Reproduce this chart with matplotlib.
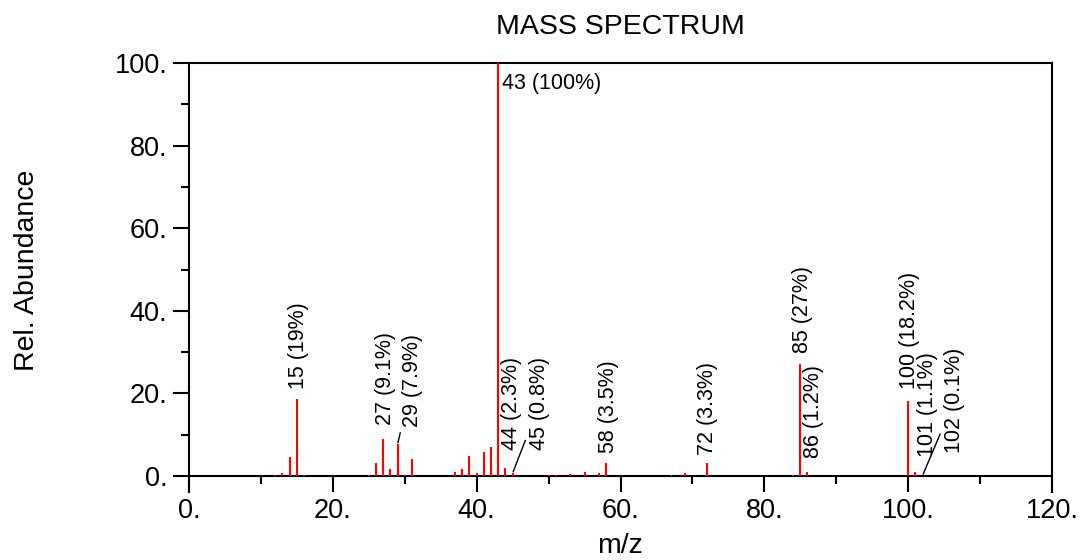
import matplotlib
matplotlib.use("Agg")
from matplotlib import pyplot as plt
from matplotlib.ticker import MultipleLocator, FuncFormatter

# peaks (m/z, relative abundance %)
mz = [12, 13, 14, 15, 16, 25, 26, 27, 28, 29, 30, 31, 37, 38, 39, 40, 41, 42,
      43, 44, 45, 50, 51, 53, 55, 57, 58, 67, 69, 72, 84, 85, 86, 100, 101, 102]
abundance = [0.3, 0.7, 4.5, 18.6, 0.3, 0.3, 3.2, 8.9, 1.6, 7.7, 0.2, 4.1, 1.0,
             1.6, 4.8, 0.7, 5.9, 7.1, 100, 1.9, 0.7, 0.3, 0.3, 0.4, 1.0, 0.7,
             3.2, 0.2, 0.7, 3.2, 0.3, 27.2, 1.0, 18.2, 0.9, 0.1]

# annotated peaks and the percentages printed next to them
label_mz = [15, 27, 29, 43, 44, 45, 58, 72, 85, 86, 100, 101, 102]
label_pct = ["19", "9.1", "7.9", "100", "2.3", "0.8", "3.5", "3.3", "27",
             "1.2", "18.2", "1.1", "0.1"]

# label placement (pixel offsets from peak top) and leader lines
label_offset = {15: (2, 10), 27: (2, 14), 29: (15, 17), 43: (4, -10),
                44: (6, 18), 45: (27, 23), 58: (2, 10), 72: (1, 8),
                85: (2, 11), 86: (6, 14), 100: (1, 12), 101: (12, 15),
                102: (32, 23)}
leader = {29, 45, 102}

plt.rcParams["font.family"] = ["Liberation Sans", "DejaVu Sans"]

fig = plt.figure(figsize=(10.81, 5.60), dpi=100)
ax = fig.add_axes([189 / 1081, 1 - 492 / 560, 863 / 1081, 429 / 560])

ax.vlines(mz, 0, abundance, color="#ff0000", lw=1.5, zorder=3)

ax.set_xlim(0, 120)
ax.set_ylim(-(492 - 476) / 4.13, 100)

for s in ["left", "right", "top", "bottom"]:
    ax.spines[s].set_linewidth(1.5)
ax.spines["bottom"].set_position(("data", 0))

ax.xaxis.set_major_locator(MultipleLocator(20))
ax.xaxis.set_minor_locator(MultipleLocator(10))
ax.yaxis.set_major_locator(MultipleLocator(20))
ax.yaxis.set_minor_locator(MultipleLocator(10))
fmt = FuncFormatter(lambda v, p: f"{v:.0f}.")
ax.xaxis.set_major_formatter(fmt)
ax.yaxis.set_major_formatter(fmt)
ax.tick_params(which="major", length=11.5, width=1.5, labelsize=19.5, pad=4)
ax.tick_params(which="minor", length=5.5, width=1.5)
ax.tick_params(axis="y", which="both", left=True, right=False)

lookup = dict(zip(mz, abundance))
for m, pct in zip(label_mz, label_pct):
    dx, dy = label_offset[m]
    txt = f"{m} ({pct}%)"
    if m == 43:
        ax.annotate(txt, (m, lookup[m]), xytext=(dx, dy), textcoords="offset pixels",
                    ha="left", va="top", fontsize=15.5)
        continue
    arrow = None
    if m in leader:
        arrow = dict(arrowstyle="-", color="black", lw=1, shrinkA=2, shrinkB=1)
    ax.annotate(txt, (m, lookup[m]), xytext=(dx, dy), textcoords="offset pixels",
                ha="center", va="bottom", rotation=90, fontsize=15.5,
                arrowprops=arrow)

fig.text(620 / 1081, 1 - 27 / 560, "MASS SPECTRUM", ha="center", va="center",
         fontsize=20.5)
fig.text(620 / 1081, 1 - 546 / 560, "m/z", ha="center", va="center", fontsize=20.5)
fig.text(27 / 1081, 1 - 270 / 560, "Rel. Abundance", ha="center", va="center",
         rotation=90, fontsize=20.5)

fig.savefig("out.png", dpi=100)
